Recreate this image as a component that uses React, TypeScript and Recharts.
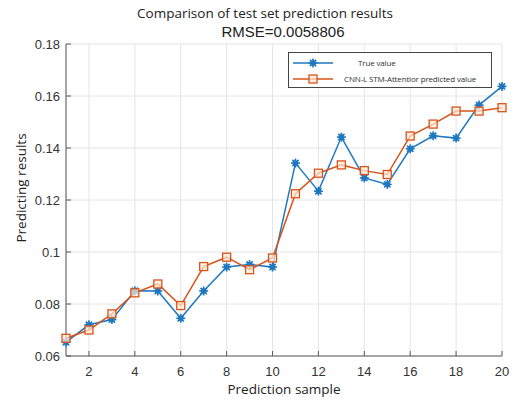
import { LineChart, Line, XAxis, YAxis, CartesianGrid, Legend } from 'recharts'

const samples = [1, 2, 3, 4, 5, 6, 7, 8, 9, 10, 11, 12, 13, 14, 15, 16, 17, 18, 19, 20]
const trueValues = [
  0.0653, 0.072, 0.074, 0.0851, 0.085, 0.0745, 0.085, 0.0942, 0.0952, 0.0942,
  0.1342, 0.1234, 0.1442, 0.1285, 0.126, 0.1397, 0.1447, 0.1438, 0.1565, 0.1637,
]
const predValues = [
  0.0668, 0.07, 0.0762, 0.0843, 0.0877, 0.0794, 0.0944, 0.098, 0.0932, 0.0977,
  0.1224, 0.1303, 0.1335, 0.1313, 0.1298, 0.1446, 0.1492, 0.1542, 0.1542, 0.1555,
]
const xTicks = [2, 4, 6, 8, 10, 12, 14, 16, 18, 20]
const yTicks = [0.06, 0.08, 0.1, 0.12, 0.14, 0.16, 0.18]

const BLUE = '#1f78c1'
const ORANGE = '#d95319'
const AXIS = '#5a5a5a'
const tickStyle = { fill: '#333', fontSize: 13, fontFamily: '"Liberation Sans", Arial, sans-serif' }

const data = samples.map((x, i) => ({ x, truth: trueValues[i], pred: predValues[i] }))

function StarDot({ cx, cy }: any) {
  if (cx == null || cy == null) return null
  const r = 4.5
  const d = r * 0.7
  return (
    <g>
      <circle cx={cx} cy={cy} r={2.8} fill={BLUE} />
      <line x1={cx - r} y1={cy} x2={cx + r} y2={cy} stroke={BLUE} strokeWidth={1.6} />
      <line x1={cx} y1={cy - r} x2={cx} y2={cy + r} stroke={BLUE} strokeWidth={1.6} />
      <line x1={cx - d} y1={cy - d} x2={cx + d} y2={cy + d} stroke={BLUE} strokeWidth={1.6} />
      <line x1={cx - d} y1={cy + d} x2={cx + d} y2={cy - d} stroke={BLUE} strokeWidth={1.6} />
    </g>
  )
}

function SquareDot({ cx, cy }: any) {
  if (cx == null || cy == null) return null
  return <rect x={cx - 4} y={cy - 4} width={8} height={8} fill="#fdebd9" fillOpacity={0.7} stroke={ORANGE} strokeWidth={1.3} />
}

function LegendBox() {
  const row = (color: string, marker: 'star' | 'square', label: string, textX: number) => (
    <div style={{ position: 'relative', height: 16 }}>
      <svg width={50} height={16} style={{ position: 'absolute', left: 4, top: 0 }}>
        <line x1={0} y1={8} x2={40} y2={8} stroke={color} strokeWidth={1.5} />
        {marker === 'star' ? <StarDot cx={20} cy={8} /> : <SquareDot cx={20} cy={8} />}
      </svg>
      <span
        style={{
          position: 'absolute', left: textX, top: 2, fontSize: 8, lineHeight: '12px',
          letterSpacing: -0.15, color: '#333', whiteSpace: 'nowrap',
        }}
      >
        {label}
      </span>
    </div>
  )
  return (
    <div
      style={{
        border: '1px solid #444',
        background: '#fff',
        width: 204,
        height: 36,
        boxSizing: 'border-box',
        paddingTop: 2,
        fontFamily: '"Open Sans", sans-serif',
      }}
    >
      {row(BLUE, 'star', 'True value', 69)}
      {row(ORANGE, 'square', 'CNN-L STM-Attentior predicted value', 55)}
    </div>
  )
}

export default function App() {
  return (
    <div style={{ position: 'absolute', left: 0, top: 0, width: 514, height: 400, background: '#fff' }}>
      <div
        style={{
          position: 'absolute', left: 0, width: 530, top: 4, textAlign: 'center',
          fontFamily: '"Open Sans", sans-serif', fontSize: 13.5, color: '#222',
        }}
      >
        Comparison of test set prediction results
      </div>
      <div
        style={{
          position: 'absolute', left: 0, width: 566, top: 23, textAlign: 'center',
          fontFamily: '"Liberation Sans", Arial, sans-serif', fontSize: 15, color: '#222',
        }}
      >
        RMSE=0.0058806
      </div>
      <LineChart
        width={514}
        height={400}
        data={data}
        margin={{ top: 44, right: 12, bottom: 0, left: 0 }}
      >
        <CartesianGrid stroke="#e4e4e4" />
        <XAxis
          dataKey="x"
          type="number"
          domain={[1, 20]}
          ticks={xTicks}
          interval={0}
          height={44}
          tickSize={-5}
          tickMargin={16}
          tick={tickStyle}
          stroke={AXIS}
          label={{ value: 'Prediction sample', position: 'insideBottom', offset: 6, fill: '#222', fontSize: 13.5, fontFamily: '"Open Sans", sans-serif' }}
        />
        <XAxis
          xAxisId="top"
          orientation="top"
          dataKey="x"
          type="number"
          domain={[1, 20]}
          ticks={xTicks}
          interval={0}
          height={0}
          tickSize={-5}
          tickFormatter={() => ''}
          stroke={AXIS}
        />
        <YAxis
          type="number"
          domain={[0.06, 0.18]}
          ticks={yTicks}
          interval={0}
          width={66}
          tickSize={-5}
          tickMargin={11}
          tick={tickStyle}
          tickFormatter={(v: number) => String(Number(v.toFixed(2)))}
          stroke={AXIS}
          label={{ value: 'Predicting results', angle: -90, position: 'insideLeft', offset: 21, dy: -12, style: { textAnchor: 'middle' }, fill: '#222', fontSize: 13.5, fontFamily: '"Open Sans", sans-serif' }}
        />
        <YAxis
          yAxisId="right"
          orientation="right"
          type="number"
          domain={[0.06, 0.18]}
          ticks={yTicks}
          interval={0}
          width={0}
          tickSize={-5}
          tickFormatter={() => ''}
          stroke={AXIS}
        />
        <Legend
          layout="vertical"
          align="center"
          verticalAlign="middle"
          content={() => <LegendBox />}
          wrapperStyle={{ left: 288, top: 52, width: 204, height: 36 }}
        />
        <Line
          dataKey="truth"
          name="True value"
          stroke={BLUE}
          strokeWidth={1.5}
          dot={<StarDot />}
          activeDot={false}
          isAnimationActive={false}
        />
        <Line
          dataKey="pred"
          name="CNN-L STM-Attentior predicted value"
          stroke={ORANGE}
          strokeWidth={1.5}
          dot={<SquareDot />}
          activeDot={false}
          isAnimationActive={false}
        />
      </LineChart>
    </div>
  )
}
